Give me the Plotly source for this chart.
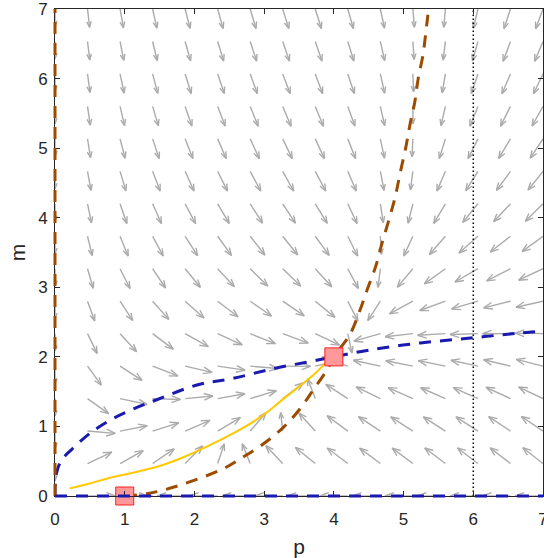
import numpy as np
import plotly.graph_objects as go

# ---------------- data ----------------
x_range = [0, 7]
y_range = [0, 7]
tick_vals = [0, 1, 2, 3, 4, 5, 6, 7]
tick_text = ["0", "1", "2", "3", "4", "5", "6", "7"]

# m-nullcline (blue dashed): m = 0 and the curve below
blue_p = [0.0, 0.005, 0.02, 0.06, 0.12, 0.23, 0.50, 0.79, 1.10, 1.45, 2.05, 2.55, 3.13, 3.75, 4.0, 4.52, 5.24, 5.96, 6.63, 7.0]
blue_m = [0.0, 0.20, 0.32, 0.45, 0.55, 0.66, 0.90, 1.09, 1.24, 1.38, 1.60, 1.69, 1.83, 1.95, 2.0, 2.10, 2.20, 2.27, 2.34, 2.37]

# p-nullcline (brown dashed): p = 0 and the curve below
brown_p = [1.0, 1.36, 1.79, 2.41, 2.70, 2.99, 3.28, 3.52, 3.70, 3.90, 4.0, 4.23, 4.37, 4.48, 4.60, 4.69, 4.79, 4.88, 4.95, 5.03, 5.09, 5.16, 5.21, 5.28, 5.33, 5.36]
brown_m = [0.0, 0.04, 0.155, 0.39, 0.56, 0.75, 0.99, 1.26, 1.52, 1.81, 2.0, 2.32, 2.66, 2.97, 3.30, 3.63, 3.97, 4.30, 4.64, 5.00, 5.33, 5.66, 6.00, 6.35, 6.76, 7.0]

# trajectory (yellow)
traj_p = [0.21, 0.50, 0.78, 1.10, 1.50, 1.85, 2.20, 2.50, 2.80, 3.05, 3.28, 3.45, 3.61, 3.75, 3.85, 3.93, 4.0]
traj_m = [0.11, 0.18, 0.26, 0.33, 0.43, 0.56, 0.72, 0.87, 1.04, 1.21, 1.40, 1.53, 1.66, 1.78, 1.88, 1.95, 2.0]

# equilibria (squares)
eq_p = [1, 4]
eq_m = [0, 2]

# dotted reference line
ref_p = 6

# quiver grid (16 x 16)
n_grid = 16

# ---------------- styles ----------------
GRAY = "#ABABAB"
BLUE = "#1A1AB0"
BROWN = "#9C4C00"
YELLOW = "#FFC800"
AXC = "#262626"
FONT = "Liberation Sans, Arial, sans-serif"

# ---------------- direction field ----------------
def Pb(m):
    return np.interp(m, brown_m, brown_p)

def Mb(p):
    return np.interp(p, blue_p, blue_m)

pg = np.linspace(x_range[0], x_range[1], n_grid)
mg = np.linspace(y_range[0], y_range[1], n_grid)
ax_x, ax_y = [], []
A, B = 2.1, 1.0
Lh, Lv = 0.40, 0.25
alpha, beta = 0.32, 0.38
for p in pg:
    for m in mg:
        dp = A * np.tanh(Pb(m) - p) * p / (p + 1.0)
        dm = B * (Mb(p) - m) * m / (m + 0.15)
        mag = np.hypot(dp, dm)
        if mag < 1e-9:
            continue
        c, s = dp / mag, dm / mag
        L = Lv + (Lh - Lv) * abs(c)
        u, v = L * c, L * s
        tx, ty = p + u, m + v
        ax_x += [p, tx, None,
                 tx - alpha * (u + beta * v), tx, tx - alpha * (u - beta * v), None]
        ax_y += [m, ty, None,
                 ty - alpha * (v - beta * u), ty, ty - alpha * (v + beta * u), None]

fig = go.Figure()
fig.add_trace(go.Scatter(x=ax_x, y=ax_y, mode="lines",
                         line=dict(color=GRAY, width=1.4), hoverinfo="skip"))
fig.add_trace(go.Scatter(x=blue_p, y=blue_m, mode="lines",
                         line=dict(color=BLUE, width=3, dash="12px,9px", shape="spline")))
fig.add_trace(go.Scatter(x=brown_p, y=brown_m, mode="lines",
                         line=dict(color=BROWN, width=3, dash="12px,9px", shape="spline")))
fig.add_trace(go.Scatter(x=traj_p, y=traj_m, mode="lines",
                         line=dict(color=YELLOW, width=2, shape="spline")))
fig.add_trace(go.Scatter(x=[ref_p, ref_p], y=y_range, mode="lines",
                         line=dict(color="black", width=1.5, dash="1.5px,2.5px")))
fig.add_trace(go.Scatter(x=eq_p, y=eq_m, mode="markers", cliponaxis=False,
                         marker=dict(symbol="square", size=18, color="#FF9999",
                                     line=dict(color="#FF2020", width=1))))

# nullclines lying on the axes (p = 0 and m = 0)
px0 = (0 - x_range[0]) / (x_range[1] - x_range[0])
py0 = (0 - y_range[0]) / (y_range[1] - y_range[0])
fig.add_shape(type="line", xref="paper", yref="y", x0=px0, x1=px0,
              y0=y_range[0], y1=y_range[1], line=dict(color=BROWN, width=3, dash="12px,9px"))
fig.add_shape(type="line", xref="x", yref="paper", x0=x_range[0], x1=x_range[1],
              y0=py0, y1=py0, line=dict(color=BLUE, width=3, dash="12px,9px"))

axis_common = dict(showgrid=False, zeroline=False, showline=True, mirror="ticks",
                   linecolor=AXC, linewidth=1, ticks="inside", ticklen=5, tickwidth=1,
                   tickcolor=AXC, tickvals=tick_vals, ticktext=tick_text,
                   ticklabeloverflow="allow", automargin=False,
                   tickfont=dict(size=17, color=AXC, family=FONT))
fig.update_xaxes(range=x_range, ticklabelstandoff=8,
                 title=dict(text="p", font=dict(size=21, color=AXC, family=FONT), standoff=10),
                 **axis_common)
fig.update_yaxes(range=y_range, ticklabelstandoff=3,
                 title=dict(text="m", font=dict(size=21, color=AXC, family=FONT), standoff=6),
                 **axis_common)
fig.update_layout(width=544, height=558, margin=dict(l=55, r=1, t=9, b=62),
                  plot_bgcolor="white", paper_bgcolor="white", showlegend=False,
                  font=dict(family=FONT, color=AXC))
fig.write_html("out.html", config={"displayModeBar": False},
               post_script="document.body.style.margin='0px';document.body.style.padding='0px';"
                           "document.body.style.overflow='hidden';")
